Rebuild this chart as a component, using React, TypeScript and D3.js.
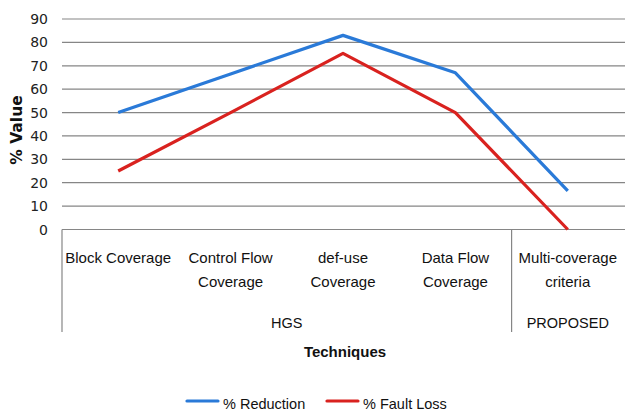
import React from "react";
import * as d3 from "d3";

const categories = [
  ["Block Coverage"],
  ["Control Flow", "Coverage"],
  ["def-use", "Coverage"],
  ["Data Flow", "Coverage"],
  ["Multi-coverage", "criteria"],
];
const groups = [
  { name: "HGS", span: 4 },
  { name: "PROPOSED", span: 1 },
];
const reduction = [50, 66.5, 83, 67, 16.5];
const faultLoss = [25, 50, 75.3, 50, 0];
const yTicks = [0, 10, 20, 30, 40, 50, 60, 70, 80, 90];

const series = [
  { name: "% Reduction", values: reduction, color: "#2a7ad8" },
  { name: "% Fault Loss", values: faultLoss, color: "#d9221f" },
];

const W = 625;
const H = 412;
const left = 62;
const right = 624;
const top = 19;
const bottom = 229.5;

export default function App() {
  const x = d3
    .scaleBand<number>()
    .domain(categories.map((_, i) => i))
    .range([left, right]);
  const y = d3.scaleLinear().domain([0, 90]).range([bottom, top]);
  const cx = (i: number) => (x(i) as number) + x.bandwidth() / 2;

  const line = d3
    .line<number>()
    .x((_, i) => cx(i))
    .y((d) => y(d));

  const labelFont = "'Liberation Sans', Arial, sans-serif";
  const tickFont = "'DejaVu Sans', Verdana, sans-serif";

  let acc = 0;
  const groupPos = groups.map((g) => {
    const x0 = x(acc) as number;
    acc += g.span;
    const x1 = acc < categories.length ? (x(acc) as number) : right;
    return { ...g, x0, x1 };
  });

  return (
    <svg
      width={W}
      height={H}
      style={{ position: "absolute", left: 0, top: 0, background: "#fff" }}
    >
      {yTicks.map((t) => (
        <g key={t}>
          <line
            x1={left}
            x2={W}
            y1={y(t)}
            y2={y(t)}
            stroke="#868686"
            strokeWidth={1.2}
          />
          <text
            x={48}
            y={y(t)}
            textAnchor="end"
            dominantBaseline="central"
            fontFamily={tickFont}
            fontSize={14}
            fill="#222"
          >
            {t}
          </text>
        </g>
      ))}

      <line x1={left} x2={left} y1={bottom} y2={332} stroke="#868686" strokeWidth={1.2} />
      {groupPos.slice(1).map((g) => (
        <line
          key={g.name}
          x1={g.x0}
          x2={g.x0}
          y1={bottom}
          y2={332}
          stroke="#868686"
          strokeWidth={1.2}
        />
      ))}

      {categories.map((lines, i) =>
        lines.map((l, j) => (
          <text
            key={i + "-" + j}
            x={cx(i)}
            y={262.5 + j * 24}
            textAnchor="middle"
            fontFamily={labelFont}
            fontSize={15}
            fill="#111"
          >
            {l}
          </text>
        ))
      )}

      {groupPos.map((g) => (
        <text
          key={g.name}
          x={(g.x0 + g.x1) / 2}
          y={328}
          textAnchor="middle"
          fontFamily={labelFont}
          fontSize={14.5}
          fill="#111"
        >
          {g.name}
        </text>
      ))}

      <text
        x={345}
        y={357}
        textAnchor="middle"
        fontFamily={labelFont}
        fontWeight="bold"
        fontSize={15}
        fill="#111"
      >
        Techniques
      </text>

      <text
        transform={`translate(22,130) rotate(-90)`}
        textAnchor="middle"
        fontFamily={tickFont}
        fontWeight="bold"
        fontSize={15.5}
        fill="#111"
      >
        % Value
      </text>

      {series.map((s) => (
        <path
          key={s.name}
          d={line(s.values) || ""}
          fill="none"
          stroke={s.color}
          strokeWidth={3.2}
          strokeLinejoin="round"
        />
      ))}

      {series.map((s, i) => {
        const lx = i === 0 ? 187 : 327;
        return (
          <g key={s.name}>
            <line
              x1={lx}
              x2={lx + 31}
              y1={401}
              y2={401}
              stroke={s.color}
              strokeWidth={3.2}
              strokeLinecap="round"
            />
            <text
              x={lx + 36}
              y={409}
              fontFamily={labelFont}
              fontSize={14.5}
              fill="#111"
            >
              {s.name}
            </text>
          </g>
        );
      })}
    </svg>
  );
}
